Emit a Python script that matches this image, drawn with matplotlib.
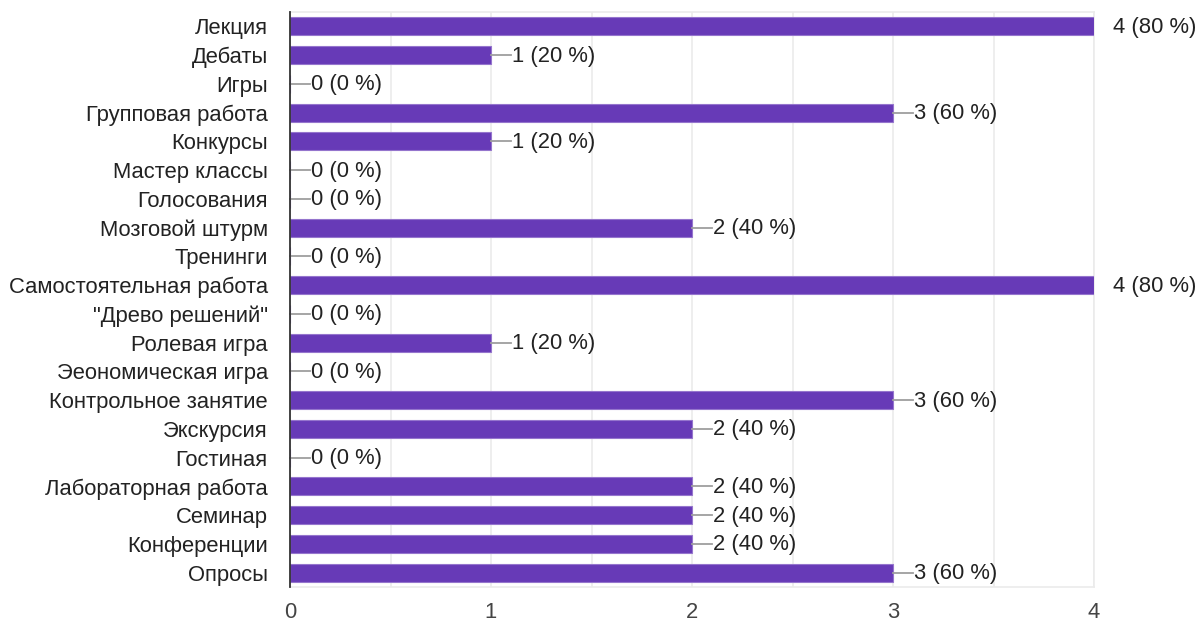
import matplotlib
matplotlib.use("Agg")
import matplotlib.pyplot as plt
from matplotlib.ticker import MultipleLocator

categories = ["Лекция", "Дебаты", "Игры", "Групповая работа", "Конкурсы",
              "Мастер классы", "Голосования", "Мозговой штурм", "Тренинги",
              "Самостоятельная работа", "\"Древо решений\"", "Ролевая игра",
              "Эеономическая игра", "Контрольное занятие", "Экскурсия",
              "Гостиная", "Лабораторная работа", "Семинар", "Конференции", "Опросы"]
counts = [4, 1, 0, 3, 1, 0, 0, 2, 0, 4, 0, 1, 0, 3, 2, 0, 2, 2, 2, 3]
percents = [80, 20, 0, 60, 20, 0, 0, 40, 0, 80, 0, 20, 0, 60, 40, 0, 40, 40, 40, 60]
xticks = [0, 1, 2, 3, 4]

plt.rcParams['font.family'] = ['Liberation Sans', 'DejaVu Sans']
FS = 15.8

W, H = 1201, 621
fig = plt.figure(figsize=(W / 100, H / 100), dpi=100)
left, right, top, bottom = 290, 1094, 12, 587
ax = fig.add_axes([left / W, 1 - bottom / H, (right - left) / W, (bottom - top) / H])

y = list(range(len(categories)))
ax.barh(y, counts, height=0.63, color="#673AB7", edgecolor="#9575CD", linewidth=0.8, zorder=3)

for yi, c, p in zip(y, counts, percents):
    label = f"{c} ({p} %)"
    if c >= 4:
        ax.annotate(label, xy=(c, yi), xytext=(19, -1), textcoords='offset pixels',
                    va='center', ha='left', fontsize=FS, color="#222222",
                    annotation_clip=False)
    else:
        ax.plot([c, c + 20 / 201], [yi, yi], color="#9e9e9e", lw=1.3, zorder=4,
                clip_on=False)
        ax.annotate(label, xy=(c, yi), xytext=(21, -1), textcoords='offset pixels',
                    va='center', ha='left', fontsize=FS, color="#222222",
                    annotation_clip=False)

ax.set_xlim(0, 4)
ax.set_ylim(len(categories) - 0.5, -0.5)
ax.set_yticks(y)
ax.set_yticklabels(categories, fontsize=FS, color="#222222")
ax.set_xticks(xticks)
ax.set_xticklabels([str(t) for t in xticks], fontsize=FS, color="#444444")
ax.xaxis.set_minor_locator(MultipleLocator(0.5))
ax.tick_params(axis='y', length=0, pad=16)
ax.tick_params(axis='x', which='both', length=0, pad=11)
ax.grid(axis='x', which='both', color="#ebebeb", lw=1.2, zorder=0)
for s in ['top', 'right', 'bottom']:
    ax.spines[s].set_color("#ebebeb")
    ax.spines[s].set_linewidth(1.2)
ax.spines['left'].set_color("#333333")
ax.spines['left'].set_linewidth(1.3)
ax.spines['left'].set_zorder(5)

fig.savefig("out.png", dpi=100)
